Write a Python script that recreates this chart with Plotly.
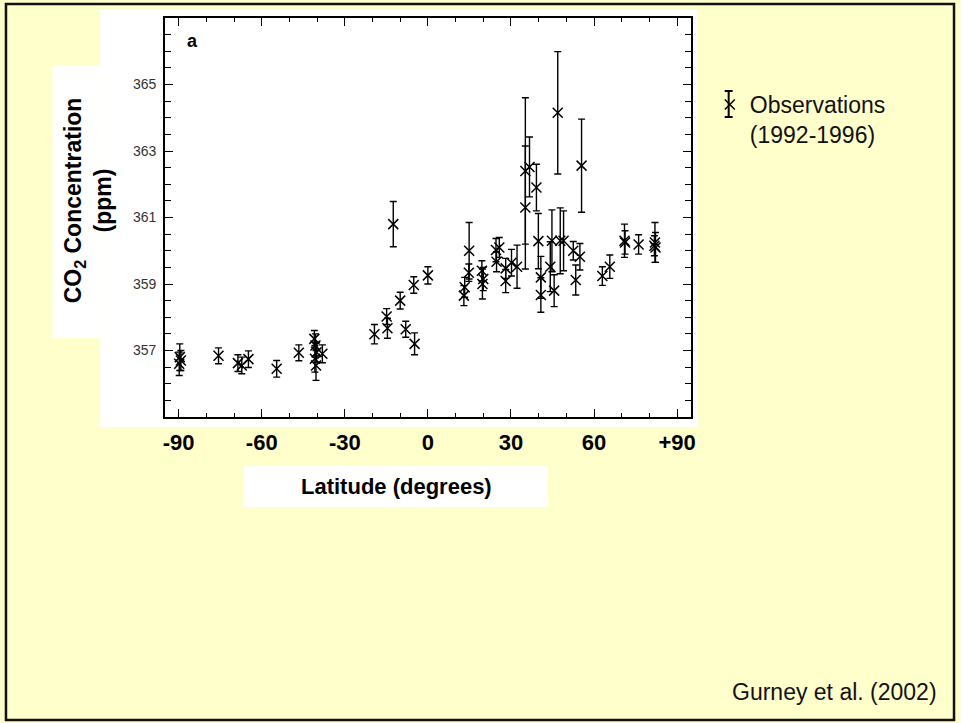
import plotly.graph_objects as go

# ---- data ----
latitude = [-89.6, -89.2, -89.8, -75.6, -68.6, -67.2, -64.8, -54.6, -46.6,
            -41.0, -40.6, -40.2, -40.8, -40.4, -38.1,
            -19.3, -14.9, -14.6, -12.5, -10.0, -8.0, -5.1, -4.8, 0.0,
            13.0, 13.3, 14.9, 14.8, 19.5, 19.7, 20.0,
            24.6, 24.8, 25.8, 28.1, 28.1, 30.2, 32.2,
            35.2, 35.2, 36.7, 39.2, 39.9, 40.8, 40.8,
            44.2, 44.8, 45.6, 46.9, 47.8, 49.0,
            52.5, 53.4, 54.9, 55.5, 63.0, 65.7,
            71.0, 71.2, 76.1, 82.0, 82.2, 81.8]
co2_ppm = [356.80, 356.70, 356.60, 356.84, 356.62, 356.55, 356.74, 356.45, 356.93,
           357.35, 357.15, 356.95, 356.75, 356.55, 356.90,
           357.49, 358.02, 357.67, 360.80, 358.50, 357.64, 358.97, 357.20, 359.26,
           358.65, 358.90, 360.00, 359.34, 359.40, 359.00, 359.15,
           360.02, 359.67, 360.10, 359.47, 359.09, 359.64, 359.52,
           362.40, 361.30, 362.52, 361.90, 360.29, 359.20, 358.67,
           359.52, 360.30, 358.80, 364.15, 360.30, 360.30,
           360.00, 359.12, 359.82, 362.56, 359.24, 359.52,
           360.30, 360.25, 360.19, 360.25, 360.10, 360.15]
co2_err = [0.40, 0.30, 0.35, 0.24, 0.25, 0.25, 0.25, 0.25, 0.24,
           0.25, 0.35, 0.30, 0.40, 0.45, 0.27,
           0.29, 0.24, 0.30, 0.68, 0.25, 0.24, 0.25, 0.33, 0.26,
           0.30, 0.30, 0.85, 0.26, 0.30, 0.45, 0.35,
           0.35, 0.30, 0.30, 0.30, 0.35, 0.40, 0.65,
           2.20, 1.85, 0.90, 0.70, 0.83, 0.63, 0.52,
           0.75, 0.93, 0.48, 1.84, 0.99, 0.90,
           0.28, 0.45, 0.40, 1.40, 0.28, 0.35,
           0.50, 0.35, 0.29, 0.60, 0.45, 0.30]

x_tickvals = [-90, -60, -30, 0, 30, 60, 90]
x_ticktext = ["-90", "-60", "-30", "0", "30", "60", "+90"]
y_tickvals = [357, 359, 361, 363, 365]
y_ticktext = ["357", "359", "361", "363", "365"]

W, H = 961, 723
def px(x):
    return x / W
def py(y):
    return 1 - y / H

FONT = "Liberation Sans, Arial, sans-serif"
BG = "#FFFFCC"

fig = go.Figure()
fig.add_trace(go.Scatter(
    x=latitude, y=co2_ppm, mode="markers",
    name="Observations<br>(1992-1996)",
    marker=dict(symbol="x-thin", size=10, color="black",
                line=dict(width=1.5, color="black")),
    error_y=dict(type="data", array=co2_err, visible=True,
                 color="black", thickness=1.4, width=3.5),
))

axis_common = dict(showline=True, linecolor="black", linewidth=1.5,
                   mirror="ticks", showgrid=False, zeroline=False,
                   ticks="inside", tickcolor="black", tickwidth=1.2)

fig.update_layout(
    width=W, height=H, autosize=False,
    margin=dict(l=0, r=0, t=0, b=0),
    paper_bgcolor=BG, plot_bgcolor="white",
    showlegend=True,
    legend=dict(x=px(713), y=py(83), xanchor="left", yanchor="top",
                bgcolor="rgba(0,0,0,0)", valign="top",
                font=dict(family=FONT, size=23, color="#111111")),
    xaxis=dict(domain=[px(164), px(694)], range=[-95, 95],
               tickmode="array", tickvals=x_tickvals, ticktext=x_ticktext,
               ticklen=8, ticklabelstandoff=5,
               tickfont=dict(family=FONT, size=22, color="black", weight="bold"),
               minor=dict(tick0=-90, dtick=10, ticklen=4, ticks="inside",
                          tickcolor="black", tickwidth=1.2),
               **axis_common),
    xaxis2=dict(overlaying="x", anchor="y", side="bottom", range=[-95, 95],
                domain=[px(164), px(694)],
                tickmode="array", tickvals=x_tickvals, showticklabels=False,
                ticks="outside", ticklen=8, tickcolor="black", tickwidth=1.2,
                showline=False, showgrid=False, zeroline=False,
                minor=dict(tick0=-90, dtick=10, ticklen=3, ticks="outside",
                           tickcolor="black", tickwidth=1.2)),
    yaxis=dict(domain=[py(417), py(18)], range=[355, 367],
               tickmode="array", tickvals=y_tickvals, ticktext=y_ticktext,
               ticklen=8, ticklabelstandoff=4,
               tickfont=dict(family=FONT, size=14, color="#333333"),
               minor=dict(tick0=355, dtick=0.5, ticklen=6, ticks="inside",
                          tickcolor="black", tickwidth=1.2),
               **axis_common),
)

# white backgrounds of the pasted figure and the title boxes
fig.add_shape(type="rect", xref="paper", yref="paper",
              x0=px(99), x1=px(701), y0=py(427), y1=py(10),
              fillcolor="white", line=dict(width=0), layer="below")
fig.add_shape(type="rect", xref="paper", yref="paper",
              x0=px(51), x1=px(99), y0=py(338), y1=py(66),
              fillcolor="white", line=dict(width=0), layer="below")
fig.add_shape(type="rect", xref="paper", yref="paper",
              x0=px(244), x1=px(550), y0=py(507), y1=py(466),
              fillcolor="white", line=dict(width=0), layer="below")
# slide border
fig.add_shape(type="rect", xref="paper", yref="paper",
              x0=px(4), x1=px(959), y0=py(720), y1=py(4),
              fillcolor="rgba(0,0,0,0)", line=dict(width=2.5, color="#111111"))
# error-bar part of the legend key (centred on the legend marker)
KEY_X = 732
fig.add_shape(type="line", xref="paper", yref="paper",
              x0=px(KEY_X), x1=px(KEY_X), y0=py(117), y1=py(91),
              line=dict(width=2, color="black"))
fig.add_shape(type="line", xref="paper", yref="paper",
              x0=px(KEY_X - 4), x1=px(KEY_X + 4), y0=py(91), y1=py(91),
              line=dict(width=2, color="black"))
fig.add_shape(type="line", xref="paper", yref="paper",
              x0=px(KEY_X - 4), x1=px(KEY_X + 4), y0=py(117), y1=py(117),
              line=dict(width=2, color="black"))

fig.add_annotation(x=px(87), y=py(200), xref="paper", yref="paper",
                   xanchor="center", yanchor="middle",
                   text="<b>CO<sub>2</sub> Concentration<br>(ppm)</b>",
                   textangle=-90, showarrow=False,
                   font=dict(family=FONT, size=23, color="black"))
fig.add_annotation(x=px(397), y=py(486), xref="paper", yref="paper",
                   xanchor="center", yanchor="middle",
                   text="<b>Latitude (degrees)</b>", showarrow=False,
                   font=dict(family=FONT, size=22, color="black"))
fig.add_annotation(x=px(192), y=py(41), xref="paper", yref="paper",
                   xanchor="center", yanchor="middle",
                   text="<b>a</b>", showarrow=False,
                   font=dict(family=FONT, size=18, color="black"))
fig.add_annotation(x=px(944), y=py(692), xref="paper", yref="paper",
                   xanchor="right", yanchor="middle",
                   text="Gurney et al. (2002)", showarrow=False,
                   font=dict(family=FONT, size=23, color="#111111"))

fig.write_html("out.html")
